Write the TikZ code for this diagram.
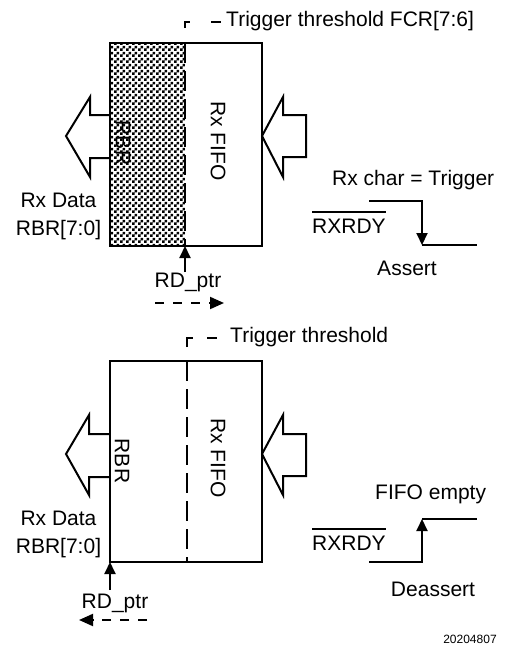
\documentclass[tikz,border=0pt]{standalone}
\usepackage{fontspec}
\setmainfont{Liberation Sans}
\usetikzlibrary{arrows.meta,patterns}
\pgfdeclarepatternformonly{rbrcheck}{\pgfpointorigin}{\pgfqpoint{6pt}{6pt}}{\pgfqpoint{6pt}{6pt}}{%
  \pgfpathrectangle{\pgfpointorigin}{\pgfqpoint{3pt}{3pt}}%
  \pgfpathrectangle{\pgfqpoint{3pt}{3pt}}{\pgfqpoint{3pt}{3pt}}%
  \pgfusepath{fill}}
\newcommand\ovlbar[1]{\setbox0\hbox{#1}\rlap{\rule[\dimexpr\ht0+6pt\relax]{\wd0}{1.5pt}}\box0}
\tikzset{
  lbl/.style={inner sep=0pt, font=\fontsize{21}{24}\selectfont},
  small/.style={inner sep=0pt, font=\fontsize{12}{14}\selectfont},
  fifobox/.style={draw, line width=2.2pt, minimum width=152pt, inner sep=0pt, outer sep=0pt},
  bigarrow/.style={line width=2pt, line join=miter},
  divider/.style={line width=2pt, dash pattern=on 20pt off 8pt},
  ptrarrow/.style={line width=2pt, -{Triangle[length=12pt,width=11pt]}},
  movearrow/.style={line width=2pt, dash pattern=on 9pt off 9pt, -{Triangle[length=14pt,width=12pt]}},
  wave/.style={line width=2pt},
  wavearrow/.style={line width=2pt, -{Triangle[length=12pt,width=11pt]}}
}
\begin{document}
\begin{tikzpicture}[x=1pt,y=-1pt]
\useasboundingbox (0,0) rectangle (509,645);

% ===== top diagram =====
\fill[pattern=rbrcheck] (110,43) rectangle (185,246);
\node[fifobox, minimum height=203pt] (box1) at (186,144.5) {};
\draw[divider] (185,43) -- (185,246);
\draw[line width=2pt] (185,28) |- (190,22);
\draw[line width=2pt] (211,22) -- (221,22);
\node[lbl, anchor=base west] (trig1) at (226,26) {Trigger threshold FCR[7:6]};

\node[lbl, rotate=-90] (rbr1) at (123,143) {RBR};
\node[lbl, rotate=-90] (fifo1) at (218,141) {Rx FIFO};

\draw[bigarrow] (110,115) -- (90,115) -- (90,97) -- (66,136) -- (90,177) -- (90,158) -- (110,158);
\draw[bigarrow] (262,136) -- (283,97) -- (283,115) -- (306,115) -- (306,157) -- (283,157) -- (283,177) -- cycle;

\node[lbl, anchor=base] (rxd1) at (58.5,207) {Rx Data};
\node[lbl, anchor=base] (rbrd1) at (58.5,235) {RBR[7:0]};

\coordinate (p1) at (185,272);
\draw[ptrarrow] (p1) -- (box1.south -| p1);
\node[lbl, anchor=base] (rd1) at (188,287) {RD\_ptr};
\coordinate (m1a) at (155,303);
\coordinate (m1b) at (224,303);
\draw[movearrow] (m1a) -- (m1b);

\node[lbl, anchor=base west] (rxc) at (332,185) {Rx char = Trigger};
\node[lbl, anchor=base west] (rdy1) at (312,233) {\ovlbar{RXRDY}};
\coordinate (w1a) at (369,201);
\coordinate (w1b) at (422,245);
\coordinate (w1c) at (477,245);
\draw[wavearrow] (w1a) -| (w1b);
\draw[wave] (w1b) -- (w1c);
\node[lbl, anchor=base] (ass) at (407,275) {Assert};

% ===== bottom diagram =====
\node[fifobox, minimum height=201pt] (box2) at (186,461.5) {};
\draw[divider] (187,361) -- (187,562);
\draw[line width=2pt] (187,347) |- (193,338);
\draw[line width=2pt] (207,338) -- (217,338);
\node[lbl, anchor=base west] (trig2) at (230,342) {Trigger threshold};

\node[lbl, rotate=-90] (rbr2) at (122,461) {RBR};
\node[lbl, rotate=-90] (fifo2) at (218,458) {Rx FIFO};

\draw[bigarrow] (110,434) -- (89,434) -- (89,415) -- (66,454) -- (89,495) -- (89,477) -- (110,477);
\draw[bigarrow] (262,454) -- (283,415) -- (283,434) -- (306,434) -- (306,476) -- (283,476) -- (283,495) -- cycle;

\node[lbl, anchor=base] (rxd2) at (58.5,525) {Rx Data};
\node[lbl, anchor=base] (rbrd2) at (58.5,553) {RBR[7:0]};

\coordinate (p2) at (110,590);
\draw[ptrarrow] (p2) -- (box2.south west);
\node[lbl, anchor=base] (rd2) at (115,608) {RD\_ptr};
\coordinate (m2a) at (147,620);
\coordinate (m2b) at (79,620);
\draw[movearrow] (m2a) -- (m2b);

\node[lbl, anchor=base west] (fe) at (375,499) {FIFO empty};
\node[lbl, anchor=base west] (rdy2) at (312,550) {\ovlbar{RXRDY}};
\coordinate (w2a) at (369,562);
\coordinate (w2b) at (422,519);
\coordinate (w2c) at (477,519);
\draw[wavearrow] (w2a) -| (w2b);
\draw[wave] (w2b) -- (w2c);
\node[lbl, anchor=base] (deass) at (433,596) {Deassert};

\node[small, anchor=base] (id) at (470,643) {20204807};
\end{tikzpicture}
\end{document}
